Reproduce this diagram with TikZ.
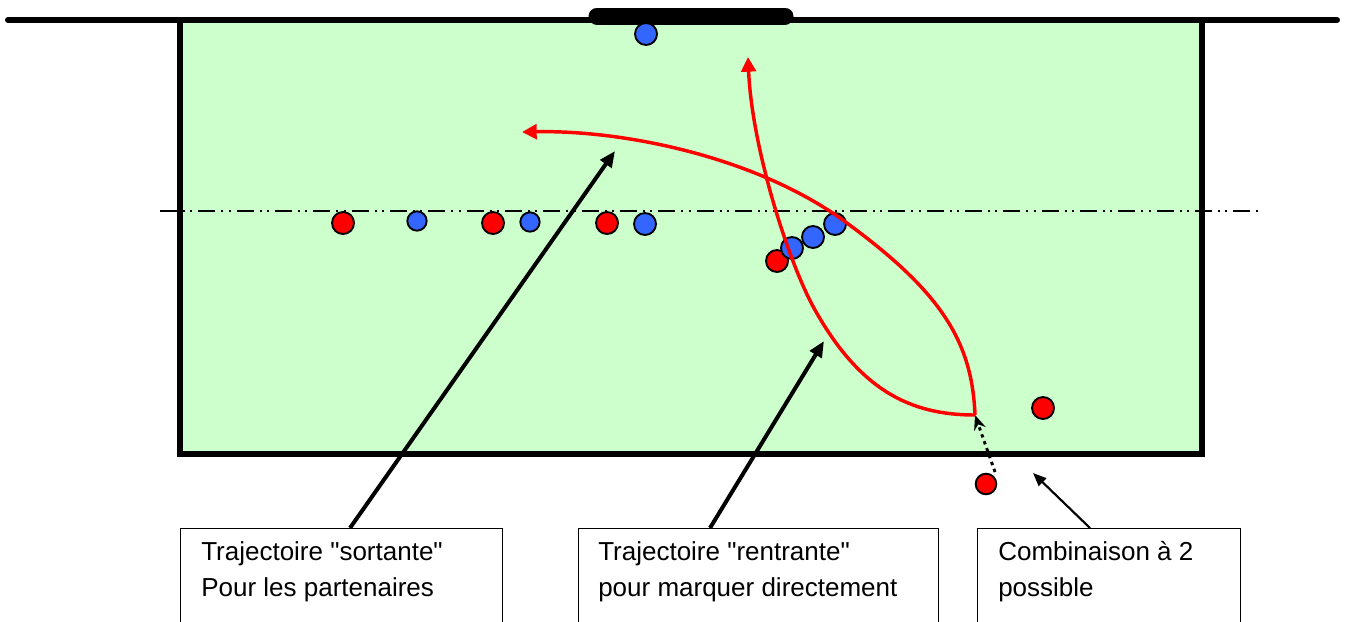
\documentclass[tikz,border=0pt]{standalone}
\usepackage{fontspec}
\setmainfont{Liberation Sans}[Ligatures=TeXOff]
\usetikzlibrary{arrows.meta}
\definecolor{fieldgreen}{RGB}{204,255,204}
\definecolor{pblue}{RGB}{51,102,255}
\definecolor{pred}{RGB}{255,0,0}
\begin{document}
\begin{tikzpicture}[x=0.75pt,y=-0.75pt,
  player/.style={circle,draw=black,line width=1.4pt,inner sep=0pt,minimum size=16.5pt},
  redp/.style={player,fill=pred},
  bluep/.style={player,fill=pblue},
  smallp/.style={minimum size=14.5pt},
  textbox/.style={draw=black,line width=1.1pt,anchor=north west,inner sep=0pt,minimum height=100pt},
  boxtext/.style={anchor=north west,align=left,inner sep=0pt,font=\fontsize{19.5pt}{27pt}\selectfont},
  redrun/.style={draw=pred,line width=2.6pt,line join=round,-{Triangle[length=11pt,width=11pt]}},
  pointer/.style={line width=3pt,-{Triangle[length=12pt,width=10pt]}},
  thinpointer/.style={line width=1.6pt,-{Triangle[length=10pt,width=8pt]}},
  dotpointer/.style={line width=2.2pt,dash pattern=on 2.5pt off 3pt,-{Stealth[length=11pt,width=9pt]}},
  fieldline/.style={line width=4.5pt},
  midline/.style={line width=1.1pt,dash pattern=on 12.75pt off 4.5pt on 1.5pt off 4pt on 1.5pt off 4.5pt}
]
\useasboundingbox (0,0) rectangle (1348,621);
\clip (0,0) rectangle (1348,621);
% field
\draw[fieldline,fill=fieldgreen] (180,20) rectangle (1202,454);
\draw[fieldline,line cap=round] (8,20) -- (1337,20);
\draw[line width=12.75pt,line cap=round] (597,16) -- (785,16);
% middle line
\draw[midline] (160,211) -- (1258,211);
% players
\node[bluep] (g) at (646,34) {};
\node[redp] (r1) at (343,223) {};
\node[bluep,smallp] (b1) at (417,221) {};
\node[redp] (r2) at (493,223) {};
\node[bluep,smallp] (b2) at (530,222) {};
\node[redp] (r3) at (607,223) {};
\node[bluep] (b3) at (645,224) {};
\node[redp] (r4) at (777,261) {};
\node[bluep] (b4) at (792,248) {};
\node[bluep] (b5) at (813,237) {};
\node[bluep] (b6) at (835,224) {};
\node[redp] (r5) at (1043,408) {};
\node[redp,minimum size=15.5pt] (r6) at (986,484) {};
% red trajectories
\coordinate (start) at (975,415);
\coordinate (m1) at (840,218);
\coordinate (e1) at (522,132);
\coordinate (m2) at (815,310);
\coordinate (e2) at (748,57);
\draw[redrun] (start) .. controls (972,340) and (940,290) .. (m1)
  .. controls (750,155) and (620,130) .. (e1);
\draw[redrun] (start) .. controls (910,415) and (860,390) .. (m2)
  .. controls (790,266) and (752,150) .. (e2);
% text boxes
\node[textbox,minimum width=241.5pt] (box1) at (180,528) {};
\node[textbox,minimum width=270pt] (box2) at (578,528) {};
\node[textbox,minimum width=197.25pt] (box3) at (977,528) {};
\node[boxtext] (t1) at (201,541) {Trajectoire "sortante"\\Pour les partenaires};
\node[boxtext] (t2) at (598,541) {Trajectoire "rentrante"\\pour marquer directement};
\node[boxtext] (t3) at (998,541) {Combinaison à 2\\possible};
% pointers
\coordinate (a1s) at (350,528);
\coordinate (a1e) at (615,151);
\coordinate (a2s) at (710,528);
\coordinate (a2e) at (824,341);
\coordinate (a3s) at (1090,528);
\coordinate (a3e) at (1033,473);
\coordinate (ds) at (995,472);
\draw[pointer] (a1s) -- (a1e);
\draw[pointer] (a2s) -- (a2e);
\draw[thinpointer] (a3s) -- (a3e);
\draw[dotpointer] (ds) -- (start);
\end{tikzpicture}
\end{document}
